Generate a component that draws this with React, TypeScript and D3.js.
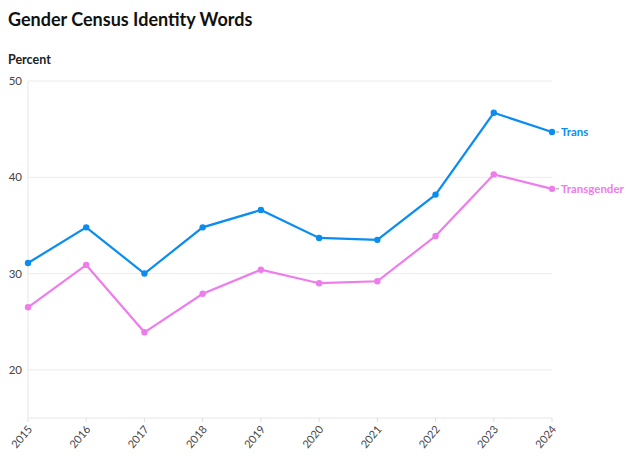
import React from "react";
import * as d3 from "d3";

const years = [2015, 2016, 2017, 2018, 2019, 2020, 2021, 2022, 2023, 2024];
const trans = [31.1, 34.8, 30.0, 34.8, 36.6, 33.7, 33.5, 38.2, 46.7, 44.7];
const transgender = [26.5, 30.9, 23.9, 27.9, 30.4, 29.0, 29.2, 33.9, 40.3, 38.8];
const yTicks = [20, 30, 40, 50];
const seriesNames = ["Trans", "Transgender"];
const colors = ["#0b8df0", "#ee7cec"];

export default function App() {
  const W = 640, H = 463;
  const left = 28, right = 552, top = 81, bottom = 418;
  const x = d3.scaleLinear().domain([2015, 2024]).range([left, right]);
  const y = d3.scaleLinear().domain([15, 50]).range([bottom, top]);
  const line = d3.line<number>().x((_, i) => x(years[i])).y((d) => y(d));
  const series = [trans, transgender];
  const font = "'Source Sans Pro', Lato, 'Open Sans', sans-serif";
  return (
    <svg width={W} height={H} style={{ position: "absolute", left: 0, top: 0, fontFamily: font }}>
      <rect width={W} height={H} fill="#fff" />
      <text x={8} y={26} fontSize={18} fontWeight={700} fill="#111">Gender Census Identity Words</text>
      <text x={8} y={64} fontSize={12.5} fontWeight={700} fill="#222">Percent</text>
      {yTicks.map((t) => (
        <g key={t}>
          <line x1={left} x2={right} y1={y(t)} y2={y(t)} stroke="#ececec" />
          <text x={left - 6} y={y(t)} dy="0.35em" textAnchor="end" fontSize={11.5} fill="#444">{t}</text>
        </g>
      ))}
      <line x1={left} x2={left} y1={top} y2={bottom} stroke="#e6e6e6" />
      <line x1={left} x2={right} y1={bottom} y2={bottom} stroke="#e6e6e6" />
      {years.map((yr) => (
        <g key={yr} transform={`translate(${x(yr)},${bottom})`}>
          <line y1={0} y2={4} stroke="#ddd" />
          <text transform="translate(2,9) rotate(-50)" textAnchor="end" dy="0.35em" fontSize={11} fill="#444">{yr}</text>
        </g>
      ))}
      {series.map((s, si) => (
        <g key={si}>
          <path d={line(s) || ""} fill="none" stroke={colors[si]} strokeWidth={2.2} />
          {s.map((v, i) => (
            <circle key={i} cx={x(years[i])} cy={y(v)} r={3.2} fill={colors[si]} />
          ))}
          <line x1={right + 4} x2={right + 7} y1={y(s[s.length - 1])} y2={y(s[s.length - 1])} stroke="#999" />
          <text x={right + 9} y={y(s[s.length - 1])} dy="0.35em" fontSize={11.5} fontWeight={700} fill={colors[si]}>{seriesNames[si]}</text>
        </g>
      ))}
    </svg>
  );
}
